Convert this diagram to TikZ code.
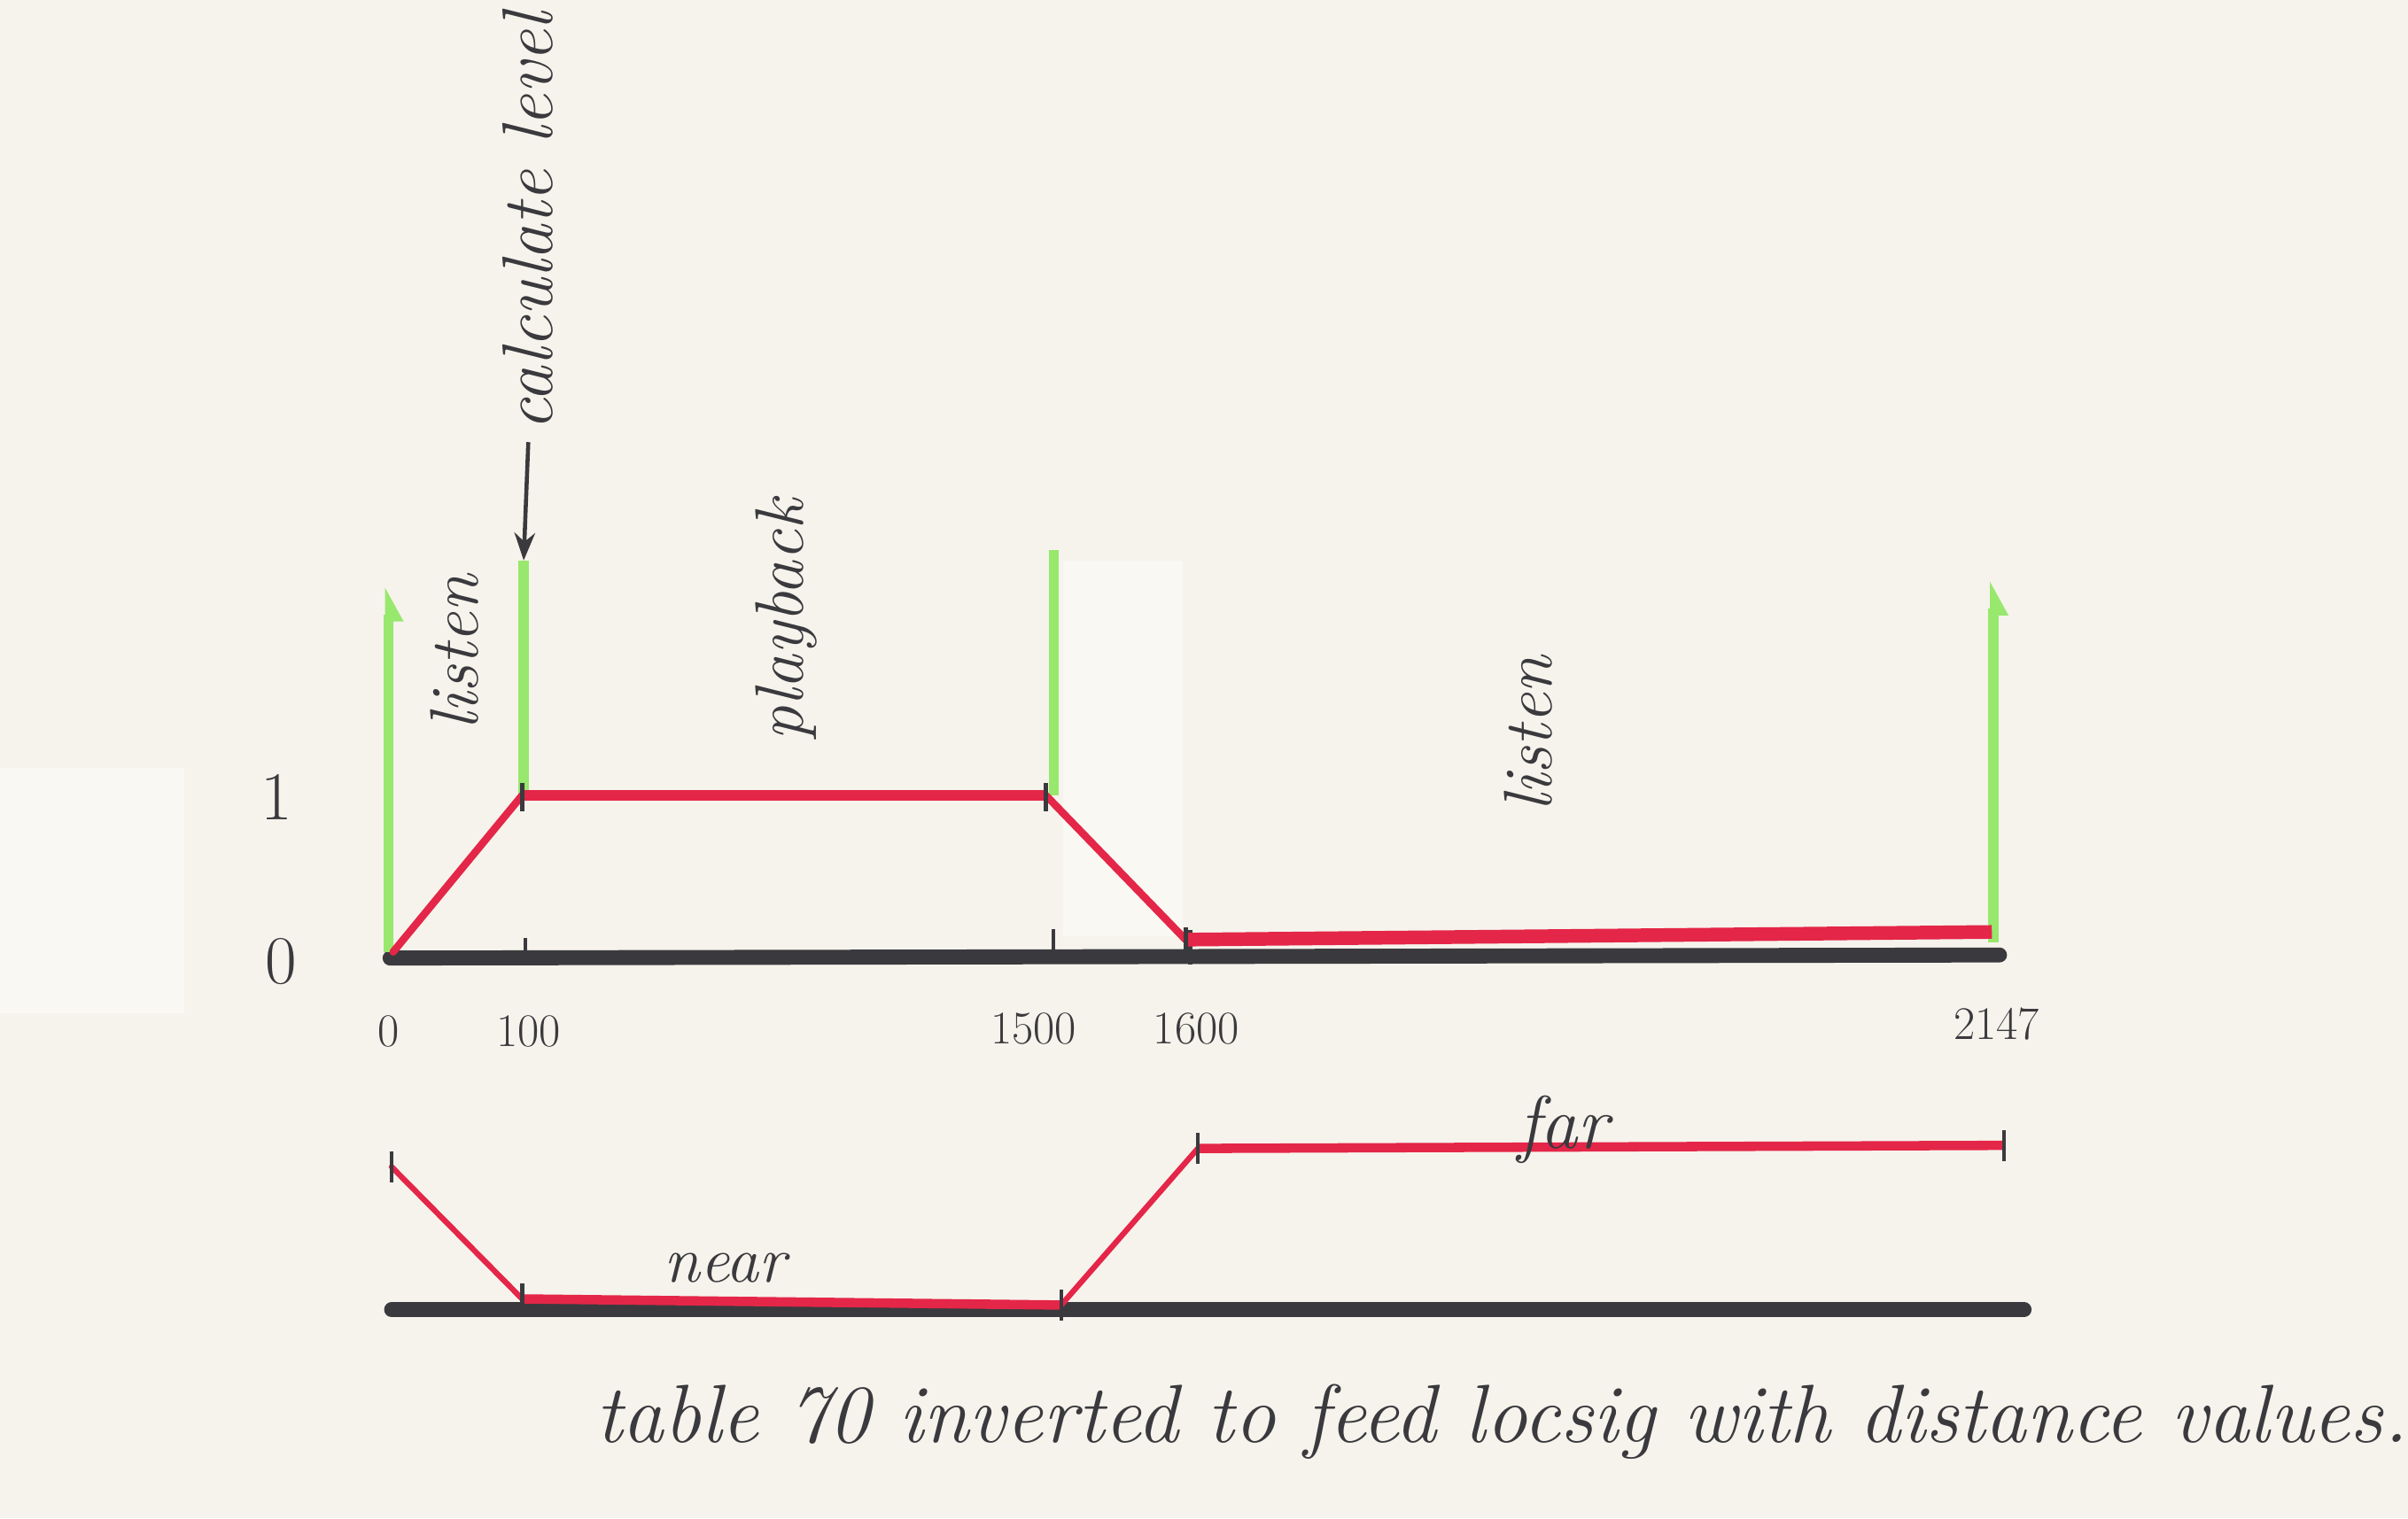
\documentclass[tikz,border=0pt]{standalone}
\usepackage{tikz}
\usetikzlibrary{arrows.meta,positioning}
\definecolor{paper}{RGB}{246,243,236}
\definecolor{patch}{RGB}{250,248,243}
\definecolor{ink}{RGB}{58,58,62}
\definecolor{penred}{RGB}{228,38,72}
\definecolor{pengreen}{RGB}{152,232,110}

\begin{document}
\begin{tikzpicture}[x=0.17334mm,y=-0.17334mm,>=Stealth,
    axisline/.style={ink,line width=4.8pt,line cap=round},
    flatline/.style={penred,line width=3.4pt,line join=round},
    slopeline/.style={penred,line width=2.4pt,line cap=round},
    marker/.style={pengreen,line width=3.2pt},
    flagged/.style={marker,-{Triangle[right,length=9pt,width=9pt]}},
    tickmark/.style={ink,line width=1.3pt},
    hand/.style={ink,font=\fontsize{22}{26}\selectfont\itshape},
    num/.style={ink,font=\fontsize{15}{17}\selectfont}]
  % paper and scan patches
  \useasboundingbox[fill=paper] (0,0) rectangle (1568,989);
  \fill[patch] (692,365) rectangle (770,610);
  \fill[patch] (0,500) rectangle (120,660);

  % ---- upper graph: level ----
  \coordinate (a0) at (254,624);
  \coordinate (a1) at (1302,622);
  \draw[axisline] (a0) -- (a1);
  % ticks on the time axis
  \foreach \x/\ya/\yb in {342/611/628, 686/605/626, 775/606/628}
    \draw[tickmark] (\x,\ya) -- (\x,\yb);
  % green boundaries
  \coordinate (g0b) at (253,620); \coordinate (g0t) at (253,382);
  \coordinate (g1b) at (341,518); \coordinate (g1t) at (341,365);
  \coordinate (g2b) at (686,518); \coordinate (g2t) at (686,358);
  \coordinate (g3b) at (1298,614); \coordinate (g3t) at (1298,378);
  \draw[flagged] (g0b) -- (g0t);
  \draw[marker] (g1b) -- (g1t);
  \draw[marker] (g2b) -- (g2t);
  \draw[flagged] (g3b) -- (g3t);
  % red envelope
  \coordinate (r0) at (256,620);
  \coordinate (r1) at (340,518);
  \coordinate (r2) at (681,518);
  \coordinate (r3) at (772,612);
  \coordinate (r4) at (1297,607);
  \draw[slopeline] (r0) -- (r1);
  \draw[flatline] (r1) -- (r2);
  \draw[slopeline] (r2) -- (r3);
  \draw[flatline,line width=4.4pt] (r3) -- (r4);
  \foreach \p in {r1,r2,r3}
    \draw[tickmark] ([yshift=-5pt]\p) -- ([yshift=4pt]\p);
  % level values
  \node[hand,font=\fontsize{22}{26}\selectfont] (one) at (180,519) {1};
  \node[hand,font=\fontsize{22}{26}\selectfont] (zero) at (183,626) {0};
  % time values
  \node[num] (n0) at (253,672) {0};
  \node[num] (n100) at (344,672) {100};
  \node[num] (n1500) at (673,670) {1500};
  \node[num] (n1600) at (779,670) {1600};
  \node[num] (n2147) at (1300,667) {2147};
  % phase names
  \node[hand,rotate=90] (listenA) at (296,425) {listen};
  \node[hand,rotate=90,anchor=west,font=\fontsize{23}{27}\selectfont\itshape]
    (calc) at (344,288) {calculate level};
  \draw[->,ink,line width=1.3pt] (calc.west) -- (g1t);
  \node[hand,rotate=90] (play) at (512,404) {playback};
  \node[hand,rotate=90] (listenB) at (995,478) {listen};

  % ---- lower graph: distance ----
  \coordinate (d0) at (255,853);
  \coordinate (d1) at (1318,853);
  \draw[axisline] (d0) -- (d1);
  \coordinate (b0) at (255,760);
  \coordinate (b1) at (340,846);
  \coordinate (b2) at (691,850);
  \coordinate (b3) at (780,748);
  \coordinate (b4) at (1305,746);
  \draw[slopeline,line width=1.8pt] (b0) -- (b1);
  \draw[flatline,line width=3pt] (b1) -- (b2);
  \draw[slopeline,line width=1.8pt] (b2) -- (b3);
  \draw[flatline,line width=3pt] (b3) -- (b4);
  \foreach \p in {b0,b1,b2,b3,b4}
    \draw[tickmark] ([yshift=-5pt]\p) -- ([yshift=5pt]\p);
  \node[hand,font=\fontsize{21}{24}\selectfont\itshape] (near) at (472,826) {near};
  \node[hand,font=\fontsize{24}{28}\selectfont\itshape] (far) at (1018,736) {far};

  % caption
  \node[hand,font=\fontsize{26.5}{31}\selectfont\itshape] (caption) at (978,926)
    {table 70 inverted to feed locsig with distance values.};
\end{tikzpicture}
\end{document}
